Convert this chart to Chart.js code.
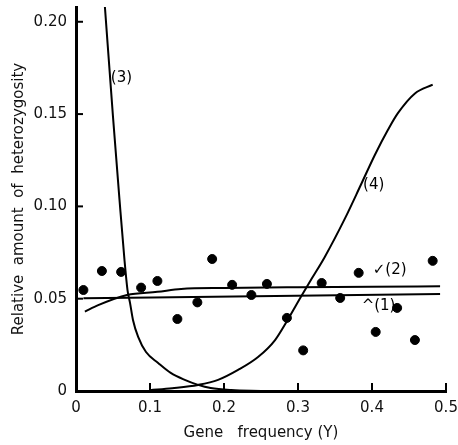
<!DOCTYPE html>
<html lang="en">
<head>
  <meta charset="UTF-8" />
  <title>Relative amount of heterozygosity</title>
  <script src="https://cdn.jsdelivr.net/npm/chart.js"></script>
  <style>
    html, body { margin: 0; padding: 0; background: #fff; }
    #wrap { width: 458px; height: 445px; position: relative; }
  </style>
</head>
<body>
  <div id="wrap"><canvas id="hetChart"></canvas></div>

  <script>
    // observed points (gene frequency, relative heterozygosity)
    const obsX = [0.010, 0.035, 0.061, 0.088, 0.110, 0.137, 0.164, 0.184, 0.211, 0.237, 0.258, 0.285, 0.307, 0.332, 0.357, 0.382, 0.405, 0.434, 0.458, 0.482];
    const obsY = [0.0547, 0.065, 0.0645, 0.056, 0.0596, 0.039, 0.048, 0.0715, 0.0575, 0.052, 0.058, 0.0396, 0.022, 0.0585, 0.0504, 0.064, 0.032, 0.045, 0.0276, 0.0705];

    // curve (1)
    const c1X = [0.010, 0.492];
    const c1Y = [0.0502, 0.0525];
    // curve (2)
    const c2X = [0.012, 0.030, 0.069, 0.11, 0.142, 0.20, 0.30, 0.40, 0.492];
    const c2Y = [0.043, 0.0465, 0.052, 0.0537, 0.0553, 0.0558, 0.0562, 0.0565, 0.0567];
    // curve (3)
    const c3X = [0.039, 0.050, 0.0588, 0.0655, 0.0696, 0.073, 0.077, 0.084, 0.0946, 0.111, 0.128, 0.147, 0.165, 0.182, 0.21, 0.25];
    const c3Y = [0.2084, 0.1485, 0.1035, 0.071, 0.0547, 0.0477, 0.0385, 0.0293, 0.0211, 0.0152, 0.0098, 0.006, 0.0033, 0.0016, 0.0005, 0.0];
    // curve (4)
    const c4X = [0.100, 0.130, 0.165, 0.192, 0.219, 0.246, 0.269, 0.286, 0.304, 0.318, 0.336, 0.3635, 0.385, 0.404, 0.4216, 0.435, 0.458, 0.482];
    const c4Y = [0.0004, 0.0015, 0.0033, 0.006, 0.0114, 0.0184, 0.0276, 0.0385, 0.051, 0.0605, 0.0725, 0.0935, 0.1117, 0.128, 0.1415, 0.1505, 0.1612, 0.166];

    const yTicks = [0, 0.05, 0.10, 0.15, 0.20];
    const xTicks = [0, 0.1, 0.2, 0.3, 0.4, 0.5];

    // curve labels: [text, x, y]
    const curveLabels = [
      ['(3)', 0.047, 0.1696],
      ['(4)', 0.388, 0.1117],
      ['\u2713(2)', 0.401, 0.0655],
      ['^(1)', 0.386, 0.0460]
    ];

    const pts = (xs, ys) => xs.map((x, i) => ({ x: x, y: ys[i] }));
    const FONT = "'DejaVu Sans', sans-serif";

    const tickPlugin = {
      id: 'inTicks',
      afterDatasetsDraw(chart) {
        const c = chart.ctx, a = chart.chartArea;
        const sx = chart.scales.x, sy = chart.scales.y;
        c.save();
        c.strokeStyle = '#000';
        c.lineWidth = 2;
        yTicks.forEach(v => {
          const py = sy.getPixelForValue(v);
          c.beginPath(); c.moveTo(a.left, py); c.lineTo(a.left + 7, py); c.stroke();
        });
        xTicks.forEach(v => {
          const px = sx.getPixelForValue(v);
          c.beginPath(); c.moveTo(px, a.bottom); c.lineTo(px, a.bottom - 8); c.stroke();
        });
        c.fillStyle = '#000';
        c.font = '15px ' + FONT;
        c.textBaseline = 'middle';
        curveLabels.forEach(l => {
          c.fillText(l[0], sx.getPixelForValue(l[1]), sy.getPixelForValue(l[2]));
        });
        c.restore();
      }
    };

    const lineDs = (data) => ({
      data: data, showLine: true, borderColor: '#000', borderWidth: 2,
      pointRadius: 0, cubicInterpolationMode: 'monotone', fill: false
    });

    new Chart(document.getElementById('hetChart'), {
      type: 'scatter',
      data: {
        datasets: [
          { data: pts(obsX, obsY), backgroundColor: '#000', borderColor: '#000', pointRadius: 4.5, showLine: false },
          lineDs(pts(c1X, c1Y)),
          lineDs(pts(c2X, c2Y)),
          lineDs(pts(c3X, c3Y)),
          lineDs(pts(c4X, c4Y))
        ]
      },
      options: {
        responsive: true,
        maintainAspectRatio: false,
        animation: false,
        layout: { padding: { left: 0, right: 12, top: 7, bottom: 0 } },
        plugins: { legend: { display: false }, tooltip: { enabled: false } },
        scales: {
          x: {
            type: 'linear', min: 0, max: 0.5,
            afterFit(s) { s.height = 54; s.paddingRight = 0; s.paddingLeft = 0; },
            afterBuildTicks(s) { s.ticks = xTicks.map(v => ({ value: v })); },
            grid: { drawOnChartArea: false, drawTicks: false },
            border: { color: '#000', width: 3 },
            ticks: {
              color: '#111', padding: 8, font: { family: FONT, size: 15 },
              callback: v => v === 0 ? '0' : v.toFixed(1)
            },
            title: {
              display: true, text: 'Gene   frequency (Y)', color: '#111',
              font: { family: FONT, size: 15 }, padding: { top: 0, bottom: 3 }
            }
          },
          y: {
            type: 'linear', min: 0, max: 0.208,
            afterFit(s) { s.width = 76; s.paddingTop = 0; s.paddingBottom = 0; },
            afterBuildTicks(s) { s.ticks = yTicks.map(v => ({ value: v })); },
            grid: { drawOnChartArea: false, drawTicks: false },
            border: { color: '#000', width: 3 },
            ticks: {
              color: '#111', padding: 9, font: { family: FONT, size: 15 },
              callback: v => v === 0 ? '0' : v.toFixed(2)
            },
            title: {
              display: true, text: 'Relative  amount  of  heterozygosity', color: '#111',
              font: { family: FONT, size: 15 }, padding: { top: 10, bottom: 0 }
            }
          }
        }
      },
      plugins: [tickPlugin]
    });
  </script>
</body>
</html>
